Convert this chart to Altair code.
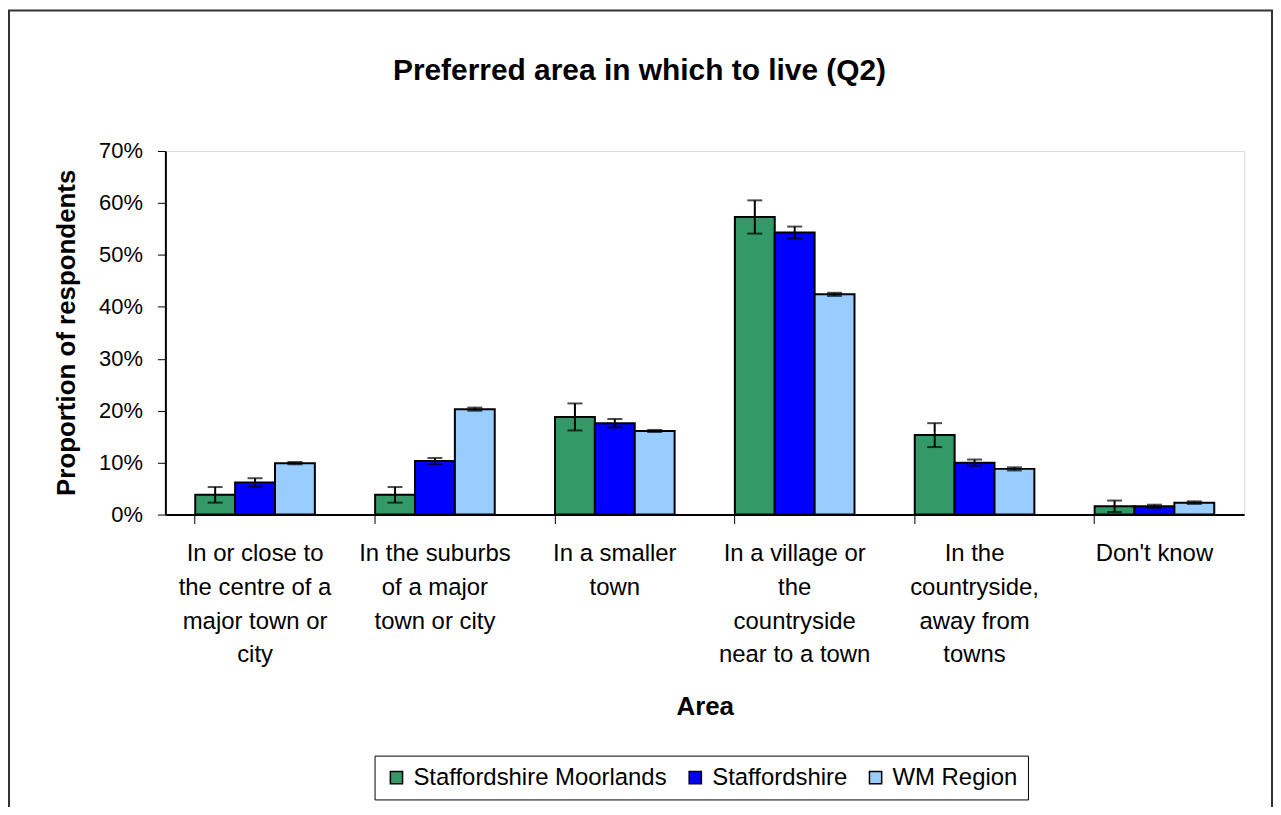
import altair as alt
import pandas as pd

categories = [
    "In or close to|the centre of a|major town or|city",
    "In the suburbs|of a major|town or city",
    "In a smaller|town",
    "In a village or|the|countryside|near to a town",
    "In the|countryside,|away from|towns",
    "Don't know",
]
series = ["Staffordshire Moorlands", "Staffordshire", "WM Region"]
colors = ["#339966", "#0000FF", "#99CCFF"]
title_text = "Preferred area in which to live (Q2)"

moorlands = [3.8, 3.8, 18.8, 57.3, 15.3, 1.6]
moorlands_err = [1.5, 1.5, 2.6, 3.2, 2.3, 1.1]
staffordshire = [6.2, 10.3, 17.6, 54.3, 10.0, 1.6]
staffordshire_err = [0.8, 0.6, 0.8, 1.15, 0.6, 0.3]
wm_region = [9.9, 20.3, 16.1, 42.4, 8.8, 2.3]
wm_region_err = [0.2, 0.3, 0.2, 0.3, 0.3, 0.25]

rows = []
for s, vals, errs in [
    (series[0], moorlands, moorlands_err),
    (series[1], staffordshire, staffordshire_err),
    (series[2], wm_region, wm_region_err),
]:
    for c, v, e in zip(categories, vals, errs):
        rows.append({"category": c, "series": s, "value": v, "lo": v - e, "hi": v + e})
df = pd.DataFrame(rows)

FONT = "Liberation Sans"
W, H = 1083, 365

x_enc = alt.X(
    "category:N",
    sort=categories,
    scale=alt.Scale(paddingInner=0.335, paddingOuter=0.166),
    axis=alt.Axis(
        title="Area",
        titleFont=FONT,
        titleFontSize=26,
        titleFontWeight="bold",
        titleColor="black",
        titleY=193,
        titleBaseline="middle",
        labelExpr="split(datum.label, '|')",
        labelFont=FONT,
        labelFontSize=24,
        labelColor="black",
        labelLineHeight=34,
        labelBaseline="top",
        labelPadding=18,
        labelAngle=0,
        labelLimit=400,
        bandPosition=0,
        tickSize=9,
        tickColor="black",
        tickWidth=1,
        domainColor="black",
        domainWidth=2,
    ),
)
xoff = alt.XOffset("series:N", sort=series, scale=alt.Scale(paddingInner=0, paddingOuter=0))
y_scale = alt.Scale(domain=[0, 70])

base = alt.Chart(df).encode(x=x_enc, xOffset=xoff)

bars = base.mark_bar(stroke="black", strokeWidth=2).encode(
    y=alt.Y(
        "value:Q",
        scale=y_scale,
        axis=alt.Axis(
            title="Proportion of respondents",
            titleFont=FONT,
            titleFontSize=26,
            titleFontWeight="bold",
            titleColor="black",
            titleX=-99,
            titleY=182,
            titleAngle=-90,
            titleBaseline="middle",
            titleAlign="center",
            values=[0, 10, 20, 30, 40, 50, 60, 70],
            labelExpr="datum.value + '%'",
            labelFont=FONT,
            labelFontSize=22,
            labelColor="black",
            labelPadding=15,
            tickSize=8,
            tickColor="black",
            domainColor="black",
            domainWidth=2,
            grid=False,
        ),
    ),
    color=alt.Color(
        "series:N",
        sort=series,
        scale=alt.Scale(domain=series, range=colors),
        legend=alt.Legend(
            title=None,
            orient="none",
            legendX=210,
            legendY=607,
            direction="horizontal",
            strokeColor="black",
            padding=10,
            labelFont=FONT,
            labelFontSize=24,
            labelColor="black",
            labelLimit=500,
            symbolType="square",
            symbolSize=150,
            symbolStrokeColor="black",
            symbolStrokeWidth=1.5,
            symbolOpacity=1,
            columnPadding=16,
            labelOffset=5,
        ),
    ),
)

rules = base.mark_rule(color="black", strokeWidth=2).encode(
    y=alt.Y("lo:Q", scale=y_scale), y2="hi:Q"
)
cap_lo = base.mark_tick(color="black", thickness=2, size=15).encode(
    y=alt.Y("lo:Q", scale=y_scale)
)
cap_hi = base.mark_tick(color="black", thickness=2, size=15).encode(
    y=alt.Y("hi:Q", scale=y_scale)
)

frame = alt.Chart(pd.DataFrame({"f": [0]})).mark_rect(
    fillOpacity=0, stroke="#333333", strokeWidth=2
).encode(
    x=alt.value(-157), x2=alt.value(1111), y=alt.value(-141), y2=alt.value(700)
)

title = alt.Chart(pd.DataFrame({"t": [title_text]})).mark_text(
    font=FONT, fontSize=30, fontWeight="bold", color="black", baseline="middle", align="center"
).encode(text="t:N", x=alt.value(476), y=alt.value(-80))

chart = alt.layer(frame, title, bars, rules, cap_lo, cap_hi).properties(
    width=W,
    height=H,
    autosize=alt.AutoSizeParams(type="none"),
    padding={"left": 158, "top": 142, "right": 29, "bottom": 292},
).configure_view(stroke="#888888", strokeWidth=2).configure(background="white")

chart.save("out.html", embed_options={"renderer": "svg", "actions": False})
